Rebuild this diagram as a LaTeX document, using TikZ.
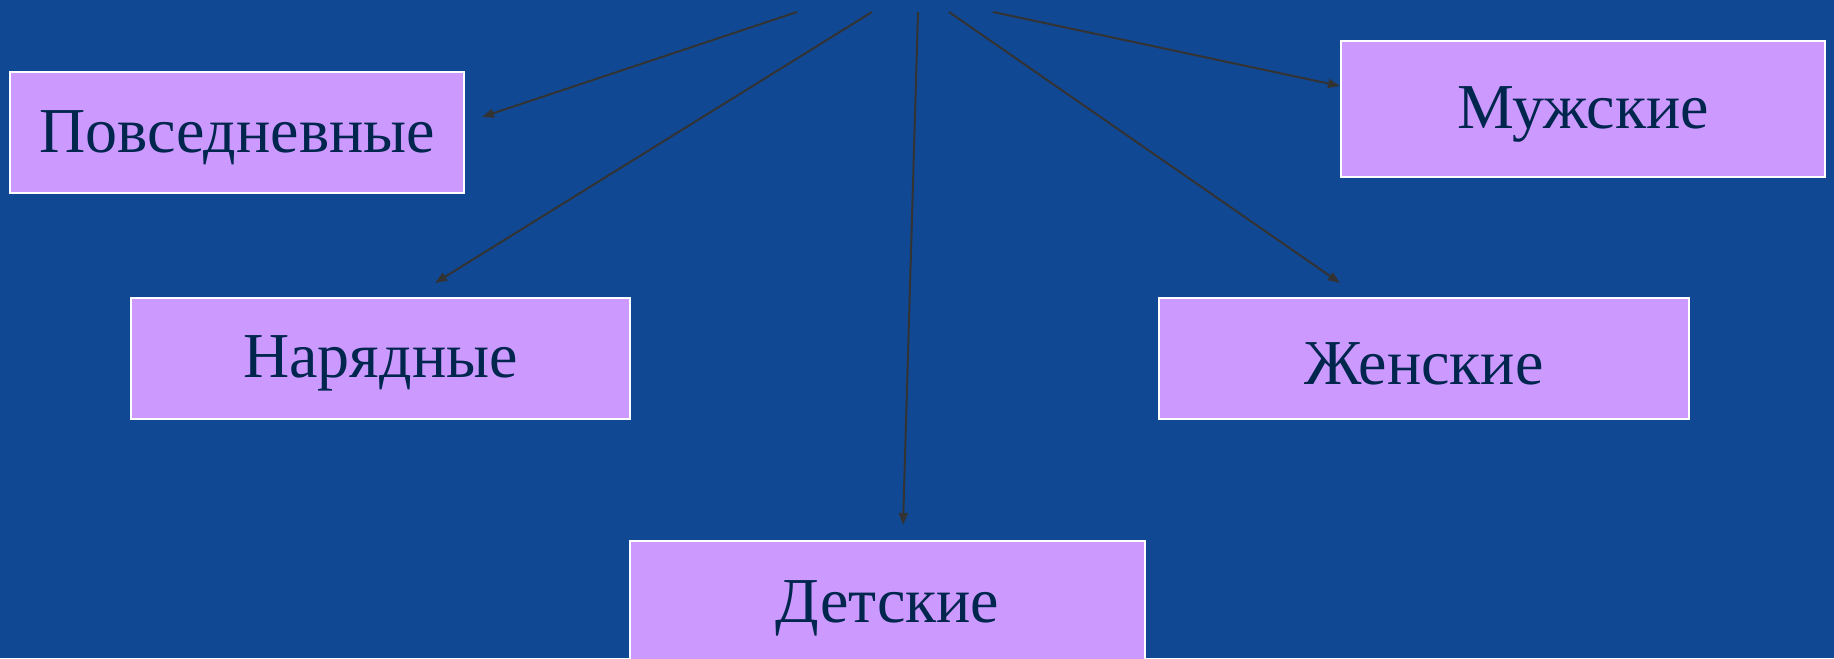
\documentclass[tikz,border=0pt]{standalone}
\usepackage{fontspec}
\setmainfont{Liberation Serif}
\usetikzlibrary{arrows.meta}
\definecolor{bgblue}{RGB}{17,72,147}
\definecolor{boxfill}{RGB}{204,153,255}
\definecolor{txt}{RGB}{0,38,78}
\definecolor{arr}{RGB}{51,51,51}
\tikzset{
  lbox/.style={draw=white, line width=1pt, fill=boxfill, inner sep=0pt},
  ltext/.style={text=txt, inner sep=0pt, font=\fontsize{32pt}{36pt}\selectfont},
  conn/.style={draw=arr, line width=1pt, -{Triangle[length=6pt,width=4.5pt]}}
}
\begin{document}
\begin{tikzpicture}[x=0.5pt,y=-0.5pt]
\fill[bgblue] (0,0) rectangle (1834,658);
\useasboundingbox (0,0) rectangle (1834,658);
% boxes
\node[lbox, minimum width=454*0.5pt, minimum height=121*0.5pt] (pov) at (237,132.5) {};
\node[lbox, minimum width=484*0.5pt, minimum height=136*0.5pt] (muzh) at (1583,109) {};
\node[lbox, minimum width=499*0.5pt, minimum height=121*0.5pt] (nar) at (380.5,358.5) {};
\node[lbox, minimum width=530*0.5pt, minimum height=121*0.5pt] (zhen) at (1424,358.5) {};
\node[lbox, minimum width=515*0.5pt, minimum height=140*0.5pt, anchor=north] (det) at (887.5,540) {};
% labels
\node[ltext] (povt) at ([yshift=-2.5pt]pov.center) {Повседневные};
\node[ltext] (muzht) at ([yshift=-2.5pt]muzh.center) {Мужские};
\node[ltext] (nart) at ([yshift=-2.5pt]nar.center) {Нарядные};
\node[ltext] (zhent) at ([yshift=-2.5pt]zhen.center) {Женские};
\node[ltext] (dett) at (887.5,608) {Детские};
% connector ends
\coordinate (s1) at (797,12);
\coordinate (s2) at (872,12);
\coordinate (s3) at (918,12);
\coordinate (s4) at (949,12);
\coordinate (s5) at (993,12);
\coordinate (e1) at (482,117);
\coordinate (e2) at (435,283);
\coordinate (e3) at (903,525);
\coordinate (e4) at (1340,283);
\coordinate (e5) at (1340,86);
\draw[conn] (s1) -- (e1);
\draw[conn] (s2) -- (e2);
\draw[conn] (s3) -- (e3);
\draw[conn] (s4) -- (e4);
\draw[conn] (s5) -- (e5);
\end{tikzpicture}
\end{document}
